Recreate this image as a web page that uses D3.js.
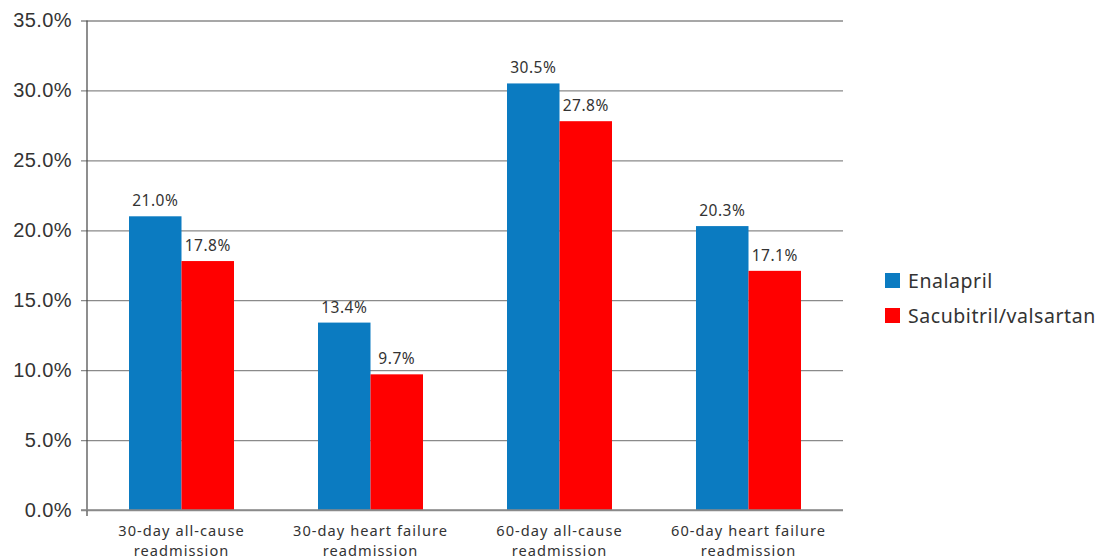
<!DOCTYPE html>
<html>
<head>
<meta charset="utf-8">
<script src="https://cdn.jsdelivr.net/npm/d3@7"></script>
<style>
  html, body { margin: 0; padding: 0; background: #fff; }
  svg { display: block; font-family: "Noto Sans", Lato, sans-serif; }
</style>
</head>
<body>
<svg id="chart" width="1096" height="559"></svg>
<script>
// Readmission rates by outcome and treatment arm
const categories = [
  ["30-day all-cause", "readmission"],
  ["30-day heart failure", "readmission"],
  ["60-day all-cause", "readmission"],
  ["60-day heart failure", "readmission"]
];
const seriesNames = ["Enalapril", "Sacubitril/valsartan"];
const enalapril = [21.0, 13.4, 30.5, 20.3];
const sacubitrilValsartan = [17.8, 9.7, 27.8, 17.1];
const yTicks = [0, 5, 10, 15, 20, 25, 30, 35];
const colors = ["#0b7bc1", "#ff0000"];

const seriesValues = [enalapril, sacubitrilValsartan];

const svg = d3.select("#chart");
const plotLeft = 87, plotRight = 843, plotTop = 20.5, plotBottom = 510;

const x0 = d3.scaleBand()
  .domain(d3.range(categories.length))
  .range([plotLeft, plotRight])
  .paddingInner(0)
  .paddingOuter(0);

const barW = 52.5;
const x1 = d3.scaleBand()
  .domain(d3.range(seriesNames.length))
  .range([0, barW * 2]);

const y = d3.scaleLinear().domain([0, 35]).range([plotBottom, plotTop]);

// Horizontal gridlines with left tick stubs
const yAxis = d3.axisLeft(y)
  .tickValues(yTicks)
  .tickSize(-(plotRight - plotLeft))
  .tickPadding(10)
  .tickFormat(d => d.toFixed(1) + "%");

const gy = svg.append("g")
  .attr("transform", `translate(${plotLeft},0)`)
  .call(yAxis);
gy.select(".domain").remove();
gy.selectAll(".tick line")
  .attr("x1", -6)
  .attr("stroke", "#8a8a8a")
  .attr("stroke-width", 1.3);
gy.selectAll(".tick text")
  .attr("x", -15)
  .attr("fill", "#333")
  .attr("font-size", 20)
  .attr("letter-spacing", 0.4);

// Vertical axis line
svg.append("line")
  .attr("x1", plotLeft).attr("x2", plotLeft)
  .attr("y1", plotTop).attr("y2", plotBottom + 6)
  .attr("stroke", "#444").attr("stroke-width", 1.2);

// Bars
const groups = svg.append("g").selectAll("g")
  .data(categories)
  .join("g")
  .attr("transform", (d, i) => `translate(${x0(i) + (x0.bandwidth() - barW * 2) / 2},0)`);

groups.each(function(_, ci) {
  const g = d3.select(this);
  seriesValues.forEach((vals, si) => {
    const v = vals[ci];
    g.append("rect")
      .attr("x", x1(si))
      .attr("y", y(v))
      .attr("width", x1.bandwidth())
      .attr("height", y(0) - y(v))
      .attr("fill", colors[si]);
    g.append("text")
      .attr("x", x1(si) + x1.bandwidth() / 2)
      .attr("y", y(v) - 10)
      .attr("text-anchor", "middle")
      .attr("fill", "#333")
      .attr("font-size", 15.5)
      .attr("letter-spacing", 0.5)
      .text(v.toFixed(1) + "%");
  });
});

// Baseline drawn over bar bottoms
svg.append("line")
  .attr("x1", plotLeft - 6).attr("x2", plotRight)
  .attr("y1", plotBottom).attr("y2", plotBottom)
  .attr("stroke", "#8a8a8a").attr("stroke-width", 1.3);

// Category labels, one text element per line
const catGroups = svg.append("g").selectAll("g")
  .data(categories)
  .join("g")
  .attr("transform", (d, i) => `translate(${x0(i) + x0.bandwidth() / 2},0)`);
catGroups.selectAll("text")
  .data(d => d)
  .join("text")
  .attr("text-anchor", "middle")
  .attr("fill", "#333")
  .attr("font-size", 14.6)
  .attr("letter-spacing", 1.05)
  .attr("y", (d, j) => 535.5 + j * 20)
  .text(d => d);

// Legend
const legend = svg.append("g").attr("transform", "translate(885,273)");
seriesNames.forEach((name, i) => {
  const row = legend.append("g").attr("transform", `translate(0,${i * 35})`);
  row.append("rect").attr("width", 15).attr("height", 15).attr("fill", colors[i]);
  row.append("text")
    .attr("x", 23).attr("y", 14.5)
    .attr("fill", "#333")
    .attr("font-size", 19.5)
    .attr("letter-spacing", 0.55)
    .text(name);
});
</script>
</body>
</html>
